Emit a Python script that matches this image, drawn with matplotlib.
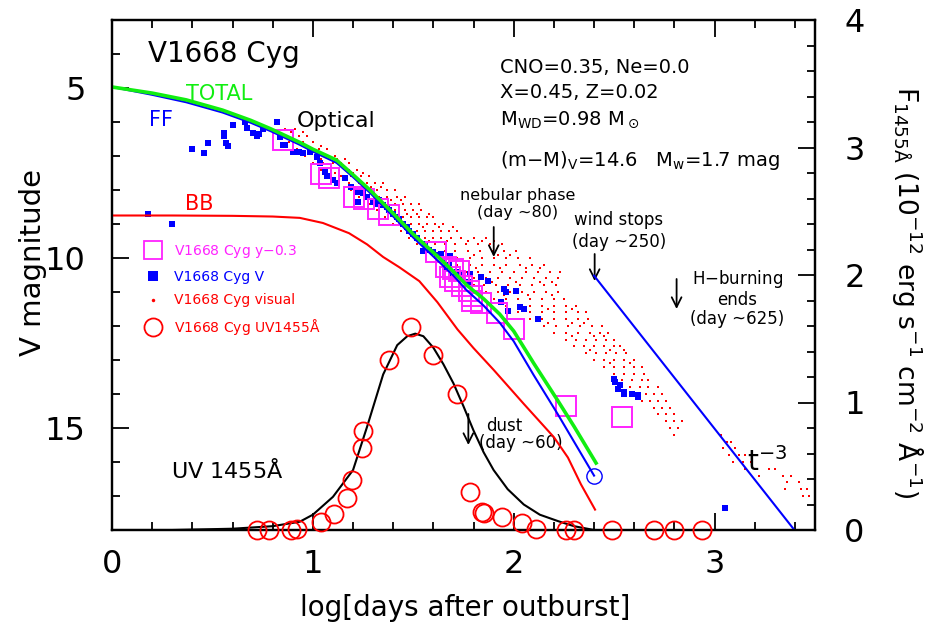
import matplotlib
matplotlib.use("Agg")
import matplotlib.pyplot as plt
from matplotlib.lines import Line2D
from matplotlib.ticker import MultipleLocator, FixedLocator

plt.rcParams['font.family'] = ['DejaVu Sans']
plt.rcParams['mathtext.fontset'] = 'dejavusans'
plt.rcParams['mathtext.default'] = 'regular'

# ---------------- data ----------------
# model light curves (log t, V mag)
total_logt = [0.0, 0.2, 0.37, 0.55, 0.69, 0.79, 0.935, 1.0, 1.118, 1.2, 1.284, 1.415, 1.5,
              1.617, 1.7, 1.766, 1.85, 1.93, 2.0, 2.1, 2.22, 2.3, 2.41]
total_mag = [4.97, 5.15, 5.35, 5.65, 5.95, 6.2, 6.6, 6.8, 7.12, 7.55, 8.0, 8.78, 9.3,
             9.93, 10.4, 10.8, 11.2, 11.65, 12.15, 13.1, 14.2, 14.95, 16.03]
ff_logt = [0.0, 0.2, 0.37, 0.55, 0.69, 0.79, 0.935, 1.0, 1.118, 1.2, 1.284, 1.415, 1.5,
           1.617, 1.7, 1.766, 1.85, 1.93, 2.0, 2.1, 2.22, 2.3, 2.4]
ff_mag = [4.97, 5.2, 5.42, 5.72, 6.02, 6.27, 6.67, 6.87, 7.2, 7.62, 8.08, 8.87, 9.4,
          10.05, 10.52, 10.95, 11.4, 11.9, 12.45, 13.45, 14.6, 15.4, 16.4]
bb_logt = [0.0, 0.3, 0.6, 0.8, 0.935, 1.05, 1.18, 1.27, 1.35, 1.43, 1.53, 1.62, 1.72, 1.8,
           1.9, 2.05, 2.2, 2.27, 2.335, 2.405]
bb_mag = [8.75, 8.75, 8.76, 8.78, 8.82, 8.97, 9.27, 9.6, 9.97, 10.27, 10.68, 11.3, 12.1, 12.65,
          13.29, 14.29, 15.27, 15.87, 16.66, 17.4]
# t^-3 decline after the wind stops
t3_logt = [2.40, 3.40]
t3_mag = [10.52, 18.02]
# end of the FF model
ffend_logt = [2.40]
ffend_mag = [16.4]

# UV 1455A model and data (log t, flux 1e-12)
uv_logt = [0.0, 0.3, 0.6, 0.8, 0.935, 1.0, 1.1, 1.2, 1.27, 1.35, 1.42, 1.47, 1.51, 1.55,
           1.6, 1.65, 1.70, 1.75, 1.80, 1.85, 1.90, 1.97, 2.05, 2.13, 2.22, 2.30, 2.40]
uv_flux = [0.0, 0.0, 0.01, 0.03, 0.065, 0.12, 0.26, 0.47, 0.81, 1.22, 1.45, 1.52, 1.54, 1.52,
           1.43, 1.3, 1.15, 0.97, 0.78, 0.61, 0.47, 0.32, 0.2, 0.12, 0.07, 0.03, 0.0]
uvobs_logt = [0.72, 0.78, 0.89, 0.92, 1.04, 1.105, 1.17, 1.195, 1.245, 1.25, 1.38, 1.49, 1.60,
              1.716, 1.78, 1.84, 1.85, 1.94, 2.04, 2.11, 2.26, 2.30, 2.49, 2.70, 2.80, 2.935]
uvobs_flux = [0.0, 0.0, 0.0, 0.01, 0.06, 0.125, 0.25, 0.39, 0.64, 0.78, 1.33, 1.59, 1.37,
              1.07, 0.30, 0.14, 0.13, 0.10, 0.055, 0.01, 0.0, 0.0, 0.0, 0.0, 0.0, 0.0]

# y - 0.3 photometry
y_logt = [0.849, 1.043, 1.08, 1.204, 1.254, 1.325, 1.38, 1.614, 1.664, 1.70, 1.726, 1.684,
          1.709, 1.743, 1.776, 1.793, 1.793, 1.835, 1.918, 2.0, 2.26, 2.54]
y_mag = [6.53, 7.53, 7.66, 8.21, 8.26, 8.55, 8.74, 9.83, 10.27, 10.32, 10.37, 10.57,
         10.67, 10.82, 10.97, 11.12, 11.27, 11.31, 11.61, 12.1, 14.34, 14.68]

# V photometry
v_logt = [0.18, 0.30, 0.40, 0.46, 0.48, 0.56, 0.56, 0.57, 0.58, 0.60, 0.66, 0.67, 0.70, 0.72,
          0.73, 0.75, 0.82, 0.835, 0.85, 0.86, 0.90, 0.93, 0.95, 0.985, 1.02, 1.035, 1.06,
          1.07, 1.10, 1.12, 1.16, 1.19, 1.22, 1.225, 1.25, 1.27, 1.30, 1.32, 1.33, 1.35, 1.37,
          1.38, 1.40, 1.42, 1.43, 1.45, 1.47, 1.48, 1.50, 1.52, 1.55, 1.56, 1.58, 1.60, 1.62,
          1.64, 1.65, 1.67, 1.68, 1.685, 1.70, 1.72, 1.73, 1.75, 1.77, 1.78, 1.835, 1.87,
          1.935, 1.95, 1.96, 1.97, 2.01, 2.03, 2.05, 2.12, 2.50, 2.505, 2.52, 2.53, 2.55,
          2.55, 2.59, 2.62, 2.62, 3.05]
v_mag = [8.7, 9.0, 6.8, 6.92, 6.62, 6.32, 6.4, 6.63, 6.7, 6.1, 6.0, 6.18, 6.33, 6.4,
         6.35, 6.2, 6.0, 6.44, 6.68, 6.68, 6.88, 6.88, 6.9, 6.88, 7.02, 7.2, 7.47,
         7.6, 7.7, 7.8, 7.65, 7.9, 8.06, 8.35, 8.1, 8.2, 8.35, 8.4, 8.3, 8.45, 8.5,
         8.6, 8.7, 8.8, 8.85, 9.0, 9.09, 9.2, 9.28, 9.4, 9.78, 9.6, 9.75, 9.83, 9.9,
         9.88, 10.05, 10.27, 10.2, 9.93, 10.56, 10.4, 10.47, 10.6, 10.7, 10.47, 10.57, 10.67,
         11.3, 10.9, 11.0, 11.56, 10.97, 11.44, 11.5, 11.8, 13.57, 13.64, 13.84, 13.73, 13.94,
         13.99, 13.99, 14.03, 14.1, 17.35]

# visual estimates: (magnitude, list of log t)
vis_rows = [
    (6.2, [0.86, 0.91]),
    (6.3, [0.89, 0.95]),
    (6.4, [0.84, 0.93, 0.97]),
    (6.6, [0.88, 0.95, 1.00]),
    (6.7, [0.97, 1.04]),
    (6.8, [0.92, 0.99, 1.03, 1.07]),
    (7.0, [0.96, 1.02, 1.07, 1.11]),
    (7.1, [1.04, 1.12, 1.16]),
    (7.2, [1.00, 1.05, 1.10, 1.14, 1.18]),
    (7.4, [1.04, 1.09, 1.13, 1.18, 1.22]),
    (7.5, [1.11, 1.20, 1.25]),
    (7.6, [1.09, 1.14, 1.19, 1.24, 1.28]),
    (7.8, [1.13, 1.18, 1.23, 1.27, 1.31, 1.35]),
    (7.9, [1.21, 1.29, 1.34]),
    (8.0, [1.19, 1.24, 1.28, 1.32, 1.37, 1.41]),
    (8.2, [1.23, 1.28, 1.33, 1.37, 1.42, 1.46]),
    (8.3, [1.30, 1.39, 1.44]),
    (8.4, [1.28, 1.32, 1.36, 1.41, 1.45, 1.49, 1.53]),
    (8.6, [1.32, 1.37, 1.41, 1.46, 1.50, 1.54]),
    (8.7, [1.39, 1.47, 1.52, 1.58]),
    (8.8, [1.36, 1.41, 1.45, 1.49, 1.53, 1.57, 1.60]),
    (9.0, [1.40, 1.45, 1.49, 1.53, 1.57, 1.61, 1.65]),
    (9.1, [1.47, 1.55, 1.63, 1.70]),
    (9.2, [1.44, 1.48, 1.52, 1.56, 1.60, 1.64, 1.68, 1.72]),
    (9.4, [1.48, 1.52, 1.56, 1.60, 1.64, 1.69, 1.74, 1.80, 1.86]),
    (9.5, [1.58, 1.67, 1.77, 1.84, 1.90]),
    (9.6, [1.52, 1.57, 1.61, 1.66, 1.71, 1.76, 1.82, 1.88, 1.94]),
    (9.8, [1.57, 1.61, 1.66, 1.71, 1.77, 1.83, 1.89, 1.95, 2.01]),
    (9.9, [1.69, 1.80, 1.92, 1.98]),
    (10.0, [1.61, 1.66, 1.72, 1.78, 1.84, 1.90, 1.96, 2.02, 2.08]),
    (10.2, [1.66, 1.72, 1.78, 1.84, 1.90, 1.96, 2.03, 2.09, 2.15]),
    (10.3, [1.81, 1.93, 2.06, 2.13]),
    (10.4, [1.70, 1.76, 1.82, 1.88, 1.94, 2.00, 2.06, 2.12, 2.18, 2.23]),
    (10.6, [1.75, 1.80, 1.86, 1.92, 1.98, 2.04, 2.10, 2.16, 2.22]),
    (10.7, [1.89, 2.01, 2.13, 2.19]),
    (10.8, [1.80, 1.85, 1.91, 1.97, 2.03, 2.09, 2.15, 2.21]),
    (11.0, [1.86, 1.92, 1.98, 2.04, 2.10, 2.16, 2.22]),
    (11.1, [1.95, 2.07, 2.19]),
    (11.2, [1.90, 1.96, 2.02, 2.08, 2.14, 2.20, 2.25]),
    (11.4, [1.96, 2.02, 2.08, 2.14, 2.20, 2.26, 2.31]),
    (11.5, [2.05, 2.17, 2.29]),
    (11.6, [2.02, 2.08, 2.14, 2.20, 2.26, 2.32, 2.36]),
    (11.8, [2.08, 2.14, 2.20, 2.26, 2.32, 2.37]),
    (11.9, [2.17, 2.29, 2.35]),
    (12.0, [2.15, 2.21, 2.27, 2.33, 2.39, 2.44]),
    (12.2, [2.20, 2.26, 2.32, 2.38, 2.43, 2.47]),
    (12.3, [2.29, 2.40, 2.45]),
    (12.4, [2.26, 2.31, 2.36, 2.41, 2.46, 2.50]),
    (12.6, [2.30, 2.35, 2.40, 2.45, 2.50, 2.53]),
    (12.7, [2.38, 2.48, 2.55]),
    (12.8, [2.36, 2.41, 2.46, 2.51, 2.56]),
    (13.0, [2.40, 2.45, 2.50, 2.55, 2.60]),
    (13.1, [2.48, 2.58]),
    (13.2, [2.45, 2.50, 2.55, 2.60, 2.64]),
    (13.4, [2.50, 2.55, 2.60, 2.65]),
    (13.6, [2.54, 2.59, 2.64, 2.67]),
    (13.8, [2.58, 2.63, 2.67, 2.72]),
    (14.0, [2.62, 2.66, 2.70, 2.74]),
    (14.2, [2.64, 2.68, 2.72, 2.76]),
    (14.4, [2.70, 2.74, 2.78]),
    (14.6, [2.72, 2.76, 2.80]),
    (14.8, [2.76, 2.80, 2.84]),
    (15.0, [2.78, 2.82]),
    (15.2, [2.80, 3.03]),
    (15.4, [3.06, 3.08]),
    (15.6, [3.04, 3.10]),
    (15.8, [3.07, 3.12, 3.15]),
    (16.0, [3.09, 3.14, 3.18]),
    (16.2, [3.15, 3.20, 3.27, 3.30]),
    (16.4, [3.22, 3.34, 3.38]),
    (16.6, [3.36, 3.42]),
    (16.8, [3.35, 3.43, 3.46]),
    (17.0, [3.44, 3.47]),
]
vis_logt = [x for m, xs in vis_rows for x in xs]
vis_mag = [m for m, xs in vis_rows for x in xs]

x_ticks = [0, 1, 2, 3]
mag_ticks = [5, 10, 15]
flux_ticks = [0, 1, 2, 3, 4]

# ---------------- figure ----------------
W, H = 926, 632
fig = plt.figure(figsize=(W / 100, H / 100), dpi=100)
L, R, T, B = 112, 815, 20, 530
ax = fig.add_axes([L / W, 1 - B / H, (R - L) / W, (B - T) / H])
ax2 = ax.twinx()

def P(px, py):
    """pixel position -> data coordinates (for text placement)"""
    return ((px - L) / 201.0, 3.0 + (py - T) / 34.0)

RED, BLUE, MAG, GREEN = '#ff0000', '#0000ff', '#ff22ff', '#11ee11'

ax.plot(vis_logt, vis_mag, ls='none', marker='s', ms=1.6, mew=0, color=RED, zorder=1)
ax.plot(v_logt, v_mag, ls='none', marker='s', ms=5, color=BLUE, mew=0, zorder=2)
ax.plot(y_logt, y_mag, ls='none', marker='s', ms=14.5, mfc='none', mec=MAG, mew=1.4, zorder=3)
ax.plot(bb_logt, bb_mag, color=RED, lw=1.5, zorder=4)
ax.plot(ff_logt, ff_mag, color=BLUE, lw=1.5, zorder=4)
ax.plot(total_logt, total_mag, color=GREEN, lw=2.6, zorder=5)
ax.plot(t3_logt, t3_mag, color=BLUE, lw=1.5, zorder=4)
ax.plot(ffend_logt, ffend_mag, ls='none', marker='o', ms=11, mfc='none', mec=BLUE, mew=1.0, zorder=5)

ax2.plot(uv_logt, uv_flux, color='k', lw=1.5, zorder=4)
ax2.plot(uvobs_logt, uvobs_flux, ls='none', marker='o', ms=13, mfc='none', mec=RED, mew=1.3,
         clip_on=False, zorder=5)

ax.set_xlim(0, 3.5)
ax.set_ylim(18, 3)
ax2.set_ylim(0, 4)

ax.xaxis.set_major_locator(FixedLocator(x_ticks))
ax.xaxis.set_minor_locator(MultipleLocator(0.2))
ax.yaxis.set_major_locator(FixedLocator(mag_ticks))
ax.yaxis.set_minor_locator(MultipleLocator(1))
ax2.yaxis.set_major_locator(FixedLocator(flux_ticks))
ax2.yaxis.set_minor_locator(MultipleLocator(0.2))

ax.tick_params(which='both', direction='in', top=True, bottom=True, left=True, right=False,
               width=1.3, colors='k')
ax.tick_params(which='major', length=12, labelsize=23)
ax.tick_params(which='minor', length=6)
ax.tick_params(axis='x', which='major', pad=14)
ax.tick_params(axis='y', which='major', pad=19)
ax2.tick_params(which='both', direction='in', left=False, right=True, width=1.3)
ax2.tick_params(which='major', length=12, labelsize=23, pad=21)
ax2.tick_params(which='minor', length=6)
for a in (ax, ax2):
    for s in a.spines.values():
        s.set_linewidth(1.6)

# axis labels
fig.text(465 / W, 1 - 608 / H, 'log[days after outburst]', ha='center', va='center', fontsize=20)
fig.text(33 / W, 1 - 262 / H, 'V magnitude', ha='center', va='center', rotation=90, fontsize=21)
fig.text(908 / W, 1 - 292 / H,
         r'F$_{1455\AA}$ (10$^{-12}$ erg s$^{-1}$ cm$^{-2}$ $\AA^{-1}$)',
         ha='center', va='center', rotation=-90, fontsize=19)

# annotations
def txt(px, py, s, **kw):
    x, y = P(px, py)
    ax.text(x, y, s, **kw)

txt(148, 62, 'V1668 Cyg', fontsize=20, va='baseline')
txt(186, 94, 'TOTAL', fontsize=15, color=GREEN, va='center')
txt(149, 120, 'FF', fontsize=15, color=BLUE, va='center')
txt(297, 121, 'Optical', fontsize=16, va='center')
txt(185, 204, 'BB', fontsize=15, color=RED, va='center')
txt(500, 73, 'CNO=0.35, Ne=0.0', fontsize=14, va='baseline')
txt(500, 98.5, 'X=0.45, Z=0.02', fontsize=14, va='baseline')
txt(500, 124.5, r'M$_{\rm WD}$=0.98 M$_\odot$', fontsize=14, va='baseline')
txt(500, 165.5, r'(m$-$M)$_{\rm V}$=14.6   M$_{\rm w}$=1.7 mag', fontsize=14, va='baseline')
txt(518, 204, 'nebular phase\n(day ~80)', fontsize=11.5, ha='center', va='center',
    linespacing=1.15)
txt(619, 231, 'wind stops\n(day ~250)', fontsize=12, ha='center', va='center',
    linespacing=1.25)
txt(738, 298, 'H$-$burning\nends\n(day ~625)', fontsize=12, ha='center', va='center',
    linespacing=1.05)
txt(486, 426, 'dust', fontsize=12, va='center')
txt(479, 443, '(day ~60)', fontsize=12, va='center')
txt(747, 471, r't$^{-3}$', fontsize=20, va='baseline')
txt(171, 470, r'UV 1455$\AA$', fontsize=16, va='center')

def arrow(px, py0, py1):
    x0, y0 = P(px, py0)
    x1, y1 = P(px, py1)
    ax.annotate('', xy=(x1, y1), xytext=(x0, y0),
                arrowprops=dict(arrowstyle='->,head_length=0.7,head_width=0.35',
                                color='k', lw=1.3, shrinkA=0, shrinkB=0))

arrow(494, 227, 257)
arrow(595, 254, 281)
arrow(677, 279, 309)
arrow(468.6, 414, 445)

# legend
handles = [
    Line2D([], [], ls='none', marker='s', ms=13, mfc='none', mec=MAG, mew=1.3),
    Line2D([], [], ls='none', marker='s', ms=7, color=BLUE, mew=0),
    Line2D([], [], ls='none', marker='o', ms=2.5, color=RED, mew=0),
    Line2D([], [], ls='none', marker='o', ms=13, mfc='none', mec=RED, mew=1.3),
]
labels = ['V1668 Cyg y$-$0.3', 'V1668 Cyg V', 'V1668 Cyg visual', r'V1668 Cyg UV1455$\AA$']
leg = ax2.legend(handles, labels, loc='upper left', bbox_to_anchor=(144.8 / W, 1 - 243 / H),
                 bbox_transform=fig.transFigure, frameon=False, fontsize=10,
                 handlelength=1.2, handletextpad=0.9, labelspacing=0.7, borderpad=0,
                 borderaxespad=0, labelcolor=[MAG, BLUE, RED, RED])

fig.savefig('out.png', dpi=100)
